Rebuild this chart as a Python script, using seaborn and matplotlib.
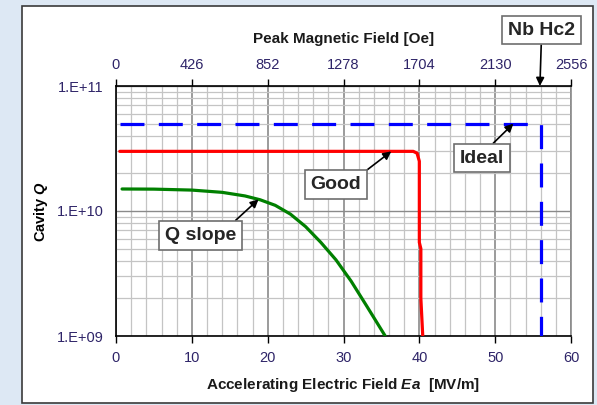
import numpy as np
import pandas as pd
import matplotlib
matplotlib.use("Agg")
import matplotlib.pyplot as plt
import seaborn as sns
from matplotlib.patches import Rectangle
from matplotlib.ticker import LogLocator, MultipleLocator, NullFormatter, FixedLocator, FixedFormatter

# ---- data ----
ea_qslope = [0.8, 5.0, 10.0, 14.0, 17.0, 19.0, 21.0, 23.0, 25.0, 27.0, 29.0, 31.0, 33.0, 35.5]
q_qslope = [1.50e10, 1.496e10, 1.47e10, 1.41e10, 1.32e10, 1.23e10, 1.11e10, 9.44e9,
            7.5e9, 5.62e9, 4.07e9, 2.75e9, 1.76e9, 1.0e9]

ea_good = [0.5, 39.2, 39.7, 40.0, 40.0, 40.2, 40.2, 40.45]
q_good = [3.0e10, 3.0e10, 2.9e10, 2.5e10, 5.6e9, 5.0e9, 2.0e9, 1.0e9]

ea_ideal = [0.5, 56.0, 56.0]
q_ideal = [5.0e10, 5.0e10, 1.0e9]

x_ticks = [0, 10, 20, 30, 40, 50, 60]
top_tick_labels = ["0", "426", "852", "1278", "1704", "2130", "2556"]
y_ticks = [1e9, 1e10, 1e11]
y_tick_labels = ["1.E+09", "1.E+10", "1.E+11"]

df = pd.concat([
    pd.DataFrame({"Ea": ea_qslope, "Q": q_qslope, "series": "Q slope"}),
    pd.DataFrame({"Ea": ea_good, "Q": q_good, "series": "Good"}),
    pd.DataFrame({"Ea": ea_ideal, "Q": q_ideal, "series": "Ideal"}),
], ignore_index=True)

# ---- style ----
sns.set_style("white")
plt.rcParams["font.family"] = ["Liberation Sans", "DejaVu Sans"]
plt.rcParams["mathtext.fontset"] = "custom"
plt.rcParams["mathtext.rm"] = "Liberation Sans"
plt.rcParams["mathtext.it"] = "Liberation Sans:italic"
plt.rcParams["mathtext.bf"] = "Liberation Sans:bold"
plt.rcParams["mathtext.bfit"] = "Liberation Sans:italic:bold"

tick_color = "#2e2468"

fig = plt.figure(figsize=(5.97, 4.05), dpi=100, facecolor="#dde8f4")
frame = Rectangle((22 / 597, 2 / 405), 571 / 597, 397 / 405,
                  transform=fig.transFigure, facecolor="white",
                  edgecolor="#3a3a3a", lw=1.2, zorder=-10)
fig.patches.append(frame)
ax = fig.add_axes([116 / 597, 69 / 405, 455 / 597, 250 / 405])
ax.set_zorder(2)
ax.set_facecolor("white")

palette = {"Q slope": "#008000", "Good": "#ff0000", "Ideal": "#0000ff"}
for name in ["Q slope", "Good", "Ideal"]:
    sub = df[df["series"] == name]
    sns.lineplot(data=sub, x="Ea", y="Q", sort=False, estimator=None, ax=ax,
                 color=palette[name], lw=2.3, legend=False, zorder=5)
ax.lines[-1].set_dashes((7.5, 4.5))

ax.set_yscale("log")
ax.set_xlim(0, 60)
ax.set_ylim(1e9, 1e11)

ax.yaxis.set_major_locator(FixedLocator(y_ticks))
ax.yaxis.set_major_formatter(FixedFormatter(y_tick_labels))
ax.yaxis.set_minor_locator(LogLocator(base=10, subs=np.arange(2, 10)))
ax.yaxis.set_minor_formatter(NullFormatter())
ax.set_xticks(x_ticks)
ax.xaxis.set_minor_locator(MultipleLocator(2))

ax.grid(which="minor", axis="both", color="#c4c4c4", lw=0.9, zorder=0)
ax.grid(which="major", axis="x", color="#8a8a8a", lw=1.2, zorder=1)
ax.grid(which="major", axis="y", color="#8a8a8a", lw=1.0, zorder=1)
ax.set_axisbelow(True)

ax.tick_params(axis="both", which="major", direction="out", length=5, width=1,
               color="black", labelsize=10.5, labelcolor=tick_color, pad=6)
ax.tick_params(axis="both", which="minor", length=0)
ax.tick_params(axis="y", pad=4)

for s in ["left", "bottom", "top"]:
    ax.spines[s].set_color("black")
    ax.spines[s].set_linewidth(1.2)
ax.spines["right"].set_color("#8a8a8a")
ax.spines["right"].set_linewidth(1.2)

ax.set_xlabel(r"Accelerating Electric Field $\mathbfit{Ea}$  [MV/m]", fontsize=11,
              fontweight="bold", color="#1a1a1a", labelpad=8)
ax.set_ylabel(r"Cavity $\mathbfit{Q}$", fontsize=10.5, fontweight="bold",
              color="black", labelpad=5)

ax2 = ax.twiny()
ax2.set_xlim(ax.get_xlim())
ax2.set_xticks(x_ticks)
ax2.set_xticklabels(top_tick_labels)
ax2.tick_params(axis="x", direction="out", length=5, width=1, color="black",
                labelsize=10.5, labelcolor=tick_color, pad=5)
ax2.set_xlabel("Peak Magnetic Field [Oe]", fontsize=11, fontweight="bold",
               color="#1a1a1a", labelpad=11)
for s in ax2.spines.values():
    s.set_visible(False)

box = dict(boxstyle="square,pad=0.3", facecolor="white", edgecolor="#6e6e6e", lw=1.2)
arrow = dict(arrowstyle="-|>", color="black", lw=1.2, shrinkA=0, shrinkB=0,
             mutation_scale=12)

ax.annotate("Good", xy=(36.3, 3.0e10), xytext=(29.0, 1.62e10), fontsize=14,
            fontweight="bold", ha="center", va="center", bbox=box,
            arrowprops=dict(arrow, relpos=(0.95, 1.0)), zorder=10)
ax.annotate("Ideal", xy=(52.4, 5.0e10), xytext=(48.3, 2.65e10), fontsize=14,
            fontweight="bold", ha="center", va="center", bbox=box,
            arrowprops=dict(arrow, relpos=(0.6, 1.0)), zorder=10)
ax.annotate("Q slope", xy=(18.8, 1.24e10), xytext=(11.1, 6.4e9), fontsize=14,
            fontweight="bold", ha="center", va="center", bbox=box,
            arrowprops=dict(arrow, relpos=(0.9, 1.0)), zorder=10)
ax.annotate("Nb Hc2", xy=(55.9, 1.0e11), xytext=(56.1, 2.8e11), fontsize=14,
            fontweight="bold", ha="center", va="center", bbox=box,
            arrowprops=dict(arrow, relpos=(0.5, 0.0)), annotation_clip=False,
            zorder=10)

fig.savefig("out.png", dpi=100, facecolor=fig.get_facecolor())
